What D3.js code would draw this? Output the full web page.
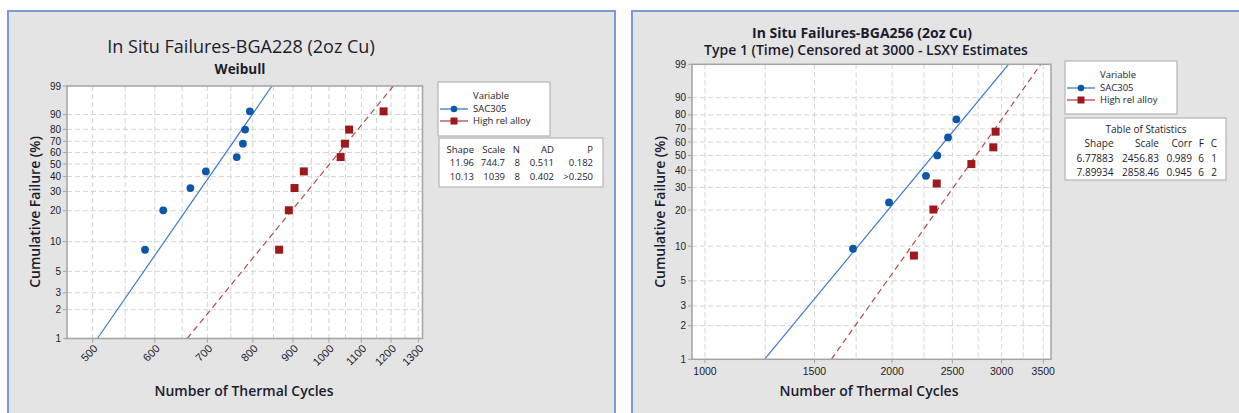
<!DOCTYPE html>
<html>
<head>
<meta charset="utf-8">
<script src="https://cdn.jsdelivr.net/npm/d3@7"></script>
<style>
  html, body { margin: 0; padding: 0; background: #ffffff; }
  svg { display: block; }
  text { font-family: "Open Sans", "Noto Sans", sans-serif; fill: #1c1c2e; }
  text.tick { font-family: "Liberation Sans", Arial, sans-serif; }
</style>
</head>
<body>
<svg id="chart" width="1239" height="413"></svg>
<script>
// ---- BGA228 (Weibull, complete data) ----
const bga228Cycles = {
  "SAC305":         [583, 615, 666, 697, 763, 777, 782, 793],
  "High rel alloy": [864, 889, 904, 929, 1035, 1048, 1061, 1174]
};
const bga228Failure = [8.3, 20.2, 32.1, 44.0, 56.0, 67.9, 79.8, 91.7];
const bga228Shape = [11.96, 10.13];
const bga228Scale = [744.7, 1039];
const bga228N = [8, 8];
const bga228AD = ["0.511", "0.402"];
const bga228P = ["0.182", ">0.250"];
const bga228XTicks = [500, 600, 700, 800, 900, 1000, 1100, 1200, 1300];
const bga228XGrid = [550, 650, 750, 850, 950, 1050, 1150, 1250];

// ---- BGA256 (Type 1 censored at 3000, LSXY) ----
const bga256Cycles = {
  "SAC305":         [1730, 1977, 2267, 2364, 2460, 2537],
  "High rel alloy": [2168, 2330, 2359, 2682, 2909, 2934]
};
const bga256Failure = {
  "SAC305":         [9.5, 23.0, 36.5, 50.0, 63.5, 77.0],
  "High rel alloy": [8.3, 20.2, 32.1, 44.0, 56.0, 67.9]
};
const bga256Shape = ["6.77883", "7.89934"];
const bga256Scale = ["2456.83", "2858.46"];
const bga256Corr = ["0.989", "0.945"];
const bga256F = [6, 6];
const bga256C = [1, 2];
const bga256XTicks = [1000, 1500, 2000, 2500, 3000, 3500];
const bga256XGrid = [1250, 1750, 2250, 2750, 3250];

const seriesNames = ["SAC305", "High rel alloy"];
const yTicks = [1, 2, 3, 5, 10, 20, 30, 40, 50, 60, 70, 80, 90, 99];

const svg = d3.select("#chart");

const style = {
  "SAC305":         { line: "#3b7bcc", mark: "#0b57a8", dash: null },
  "High rel alloy": { line: "#b24a4f", mark: "#9c1a1c", dash: "6,4" }
};

// Weibull probability transform
const wt = p => Math.log(-Math.log(1 - p / 100));

function panel(x, y, w, h) {
  svg.append("rect").attr("x", x).attr("y", y).attr("width", w).attr("height", h)
    .attr("fill", "#e4e4e4").attr("stroke", "#7b9bd8").attr("stroke-width", 2);
}

function probPlot(cfg) {
  const g = svg.append("g");
  const x = d3.scaleLog().domain(cfg.xDomain).range([cfg.left, cfg.right]);
  const yl = d3.scaleLinear().domain([wt(1), wt(99)]).range([cfg.bottom, cfg.top]);
  const y = p => yl(wt(p));

  g.append("rect").attr("x", cfg.left).attr("y", cfg.top)
    .attr("width", cfg.right - cfg.left).attr("height", cfg.bottom - cfg.top)
    .attr("fill", "#ffffff");

  const clipId = "clip" + cfg.id;
  g.append("clipPath").attr("id", clipId).append("rect")
    .attr("x", cfg.left).attr("y", cfg.top)
    .attr("width", cfg.right - cfg.left).attr("height", cfg.bottom - cfg.top);

  // grid
  const grid = g.append("g").attr("stroke", "#d4d4d4").attr("stroke-width", 1)
    .attr("stroke-dasharray", "5,3");
  yTicks.filter(t => t !== 1 && t !== 99).forEach(t => {
    grid.append("line").attr("x1", cfg.left).attr("x2", cfg.right)
      .attr("y1", y(t)).attr("y2", y(t));
  });
  cfg.xTicks.concat(cfg.xGrid).forEach(t => {
    grid.append("line").attr("y1", cfg.top).attr("y2", cfg.bottom)
      .attr("x1", x(t)).attr("x2", x(t));
  });

  // fitted Weibull lines from shape/scale
  const fits = g.append("g").attr("clip-path", `url(#${clipId})`);
  seriesNames.forEach((s, i) => {
    const sh = +cfg.shape[i], sc = +cfg.scale[i];
    const t1 = Math.exp(Math.log(sc) + wt(1) / sh);
    const t99 = Math.exp(Math.log(sc) + wt(99) / sh);
    fits.append("line")
      .attr("x1", x(t1)).attr("y1", y(1)).attr("x2", x(t99)).attr("y2", y(99))
      .attr("stroke", style[s].line).attr("stroke-width", 1.2)
      .attr("stroke-dasharray", style[s].dash);
  });

  // data points
  seriesNames.forEach(s => {
    const xs = cfg.cycles[s], ps = cfg.failure[s];
    xs.forEach((v, k) => {
      if (s === "SAC305") {
        g.append("circle").attr("cx", x(v)).attr("cy", y(ps[k])).attr("r", 3.9)
          .attr("fill", style[s].mark);
      } else {
        g.append("rect").attr("x", x(v) - 4).attr("y", y(ps[k]) - 4)
          .attr("width", 8).attr("height", 8).attr("fill", style[s].mark);
      }
    });
  });

  // frame
  g.append("rect").attr("x", cfg.left).attr("y", cfg.top)
    .attr("width", cfg.right - cfg.left).attr("height", cfg.bottom - cfg.top)
    .attr("fill", "none").attr("stroke", "#a3a3a3").attr("stroke-width", 1.5);

  // y axis
  const ya = g.append("g");
  yTicks.forEach(t => {
    ya.append("line").attr("x1", cfg.left - 4).attr("x2", cfg.left)
      .attr("y1", y(t)).attr("y2", y(t)).attr("stroke", "#a3a3a3");
    ya.append("text").attr("class", "tick").attr("x", cfg.left - 6).attr("y", y(t)).attr("dy", "0.35em")
      .attr("text-anchor", "end").attr("font-size", 10).text(t);
  });

  // x axis
  const xa = g.append("g");
  cfg.xTicks.forEach(t => {
    xa.append("line").attr("x1", x(t)).attr("x2", x(t))
      .attr("y1", cfg.bottom).attr("y2", cfg.bottom + 4).attr("stroke", "#a3a3a3");
    if (cfg.rotate) {
      xa.append("text").attr("class", "tick")
        .attr("transform", `translate(${x(t) + 3},${cfg.bottom + 8}) rotate(-45)`)
        .attr("text-anchor", "end").attr("dy", "0.35em").attr("font-size", 11).text(t);
    } else {
      xa.append("text").attr("class", "tick").attr("x", x(t)).attr("y", cfg.bottom + 12).attr("dy", "0.35em")
        .attr("text-anchor", "middle").attr("font-size", 10.5).text(t);
    }
  });

  // axis titles
  g.append("text").attr("x", cfg.xLabelX).attr("y", 391).attr("dy", "0.35em")
    .attr("text-anchor", "middle").attr("font-size", 14).attr("font-weight", 600)
    .text("Number of Thermal Cycles");
  g.append("text")
    .attr("transform", `translate(${cfg.yLabelX},212) rotate(-90)`)
    .attr("dy", "0.35em").attr("text-anchor", "middle")
    .attr("font-size", 14).attr("font-weight", 600)
    .text("Cumulative Failure (%)");

  return g;
}

function legend(x0, y0, w, h) {
  const g = svg.append("g");
  g.append("rect").attr("x", x0).attr("y", y0).attr("width", w).attr("height", h)
    .attr("fill", "#ffffff").attr("stroke", "#b5b5b5").attr("stroke-width", 1.2);
  g.append("text").attr("x", x0 + 35).attr("y", y0 + 14).attr("dy", "0.35em")
    .attr("font-size", 9.5).text("Variable");
  seriesNames.forEach((s, i) => {
    const yy = y0 + 27 + i * 12;
    g.append("line").attr("x1", x0 + 2).attr("x2", x0 + 30).attr("y1", yy).attr("y2", yy)
      .attr("stroke", style[s].line).attr("stroke-width", 1.3);
    if (i === 0) g.append("circle").attr("cx", x0 + 16).attr("cy", yy).attr("r", 3.3).attr("fill", style[s].mark);
    else g.append("rect").attr("x", x0 + 12.5).attr("y", yy - 3.5).attr("width", 7).attr("height", 7).attr("fill", style[s].mark);
    g.append("text").attr("x", x0 + 35).attr("y", yy).attr("dy", "0.35em")
      .attr("font-size", 9.5).text(s);
  });
}

function table(x0, y0, w, h, cols, header, rows, rowY, fs, caption) {
  const g = svg.append("g");
  g.append("rect").attr("x", x0).attr("y", y0).attr("width", w).attr("height", h)
    .attr("fill", "#ffffff").attr("stroke", "#b5b5b5").attr("stroke-width", 1.2);
  if (caption) {
    g.append("text").attr("x", caption.x).attr("y", caption.y).attr("dy", "0.35em")
      .attr("text-anchor", "middle").attr("font-size", fs).text(caption.text);
  }
  header.forEach((t, j) => {
    g.append("text").attr("x", cols[j]).attr("y", rowY[0]).attr("dy", "0.35em")
      .attr("text-anchor", "end").attr("font-size", fs).text(t);
  });
  rows.forEach((r, i) => r.forEach((t, j) => {
    g.append("text").attr("x", cols[j]).attr("y", rowY[i + 1]).attr("dy", "0.35em")
      .attr("text-anchor", "end").attr("font-size", fs).text(t);
  }));
}

// ---------- left panel ----------
panel(8, 11, 607, 420);
svg.append("text").attr("x", 241).attr("y", 47).attr("dy", "0.35em")
  .attr("text-anchor", "middle").attr("font-size", 18).text("In Situ Failures-BGA228 (2oz Cu)");
svg.append("text").attr("x", 240).attr("y", 69).attr("dy", "0.35em")
  .attr("text-anchor", "middle").attr("font-size", 13.5).attr("font-weight", 700).text("Weibull");

probPlot({
  id: "a", left: 67, right: 422.5, top: 86, bottom: 338.5,
  xDomain: [463.7, 1316], xTicks: bga228XTicks, xGrid: bga228XGrid, rotate: true,
  cycles: bga228Cycles,
  failure: { "SAC305": bga228Failure, "High rel alloy": bga228Failure },
  shape: bga228Shape, scale: bga228Scale,
  xLabelX: 244, yLabelX: 35
});
legend(438, 82, 112, 54);
table(439, 138, 164, 49, [474, 505, 520, 554, 593],
  ["Shape", "Scale", "N", "AD", "P"],
  seriesNames.map((s, i) => [bga228Shape[i].toFixed(2), String(bga228Scale[i]), String(bga228N[i]), bga228AD[i], bga228P[i]]),
  [150, 163, 177], 9.5);

// ---------- right panel ----------
panel(632, 11, 620, 420);
svg.append("text").attr("x", 862).attr("y", 33).attr("dy", "0.35em")
  .attr("text-anchor", "middle").attr("font-size", 14).attr("font-weight", 700)
  .text("In Situ Failures-BGA256 (2oz Cu)");
svg.append("text").attr("x", 866).attr("y", 50).attr("dy", "0.35em")
  .attr("text-anchor", "middle").attr("font-size", 14).attr("font-weight", 600)
  .text("Type 1 (Time) Censored at 3000 - LSXY Estimates");

probPlot({
  id: "b", left: 692, right: 1051, top: 64.3, bottom: 359.3,
  xDomain: [953, 3602], xTicks: bga256XTicks, xGrid: bga256XGrid, rotate: false,
  cycles: bga256Cycles, failure: bga256Failure,
  shape: bga256Shape, scale: bga256Scale,
  xLabelX: 869, yLabelX: 660
});
legend(1065, 61, 112, 53);
table(1065, 118, 161, 62, [1113.5, 1159, 1192, 1204, 1217],
  ["Shape", "Scale", "Corr", "F", "C"],
  seriesNames.map((s, i) => [bga256Shape[i], bga256Scale[i], bga256Corr[i], String(bga256F[i]), String(bga256C[i])]),
  [143, 158, 172.5], 10,
  { x: 1146, y: 129, text: "Table of Statistics" });
</script>
</body>
</html>
